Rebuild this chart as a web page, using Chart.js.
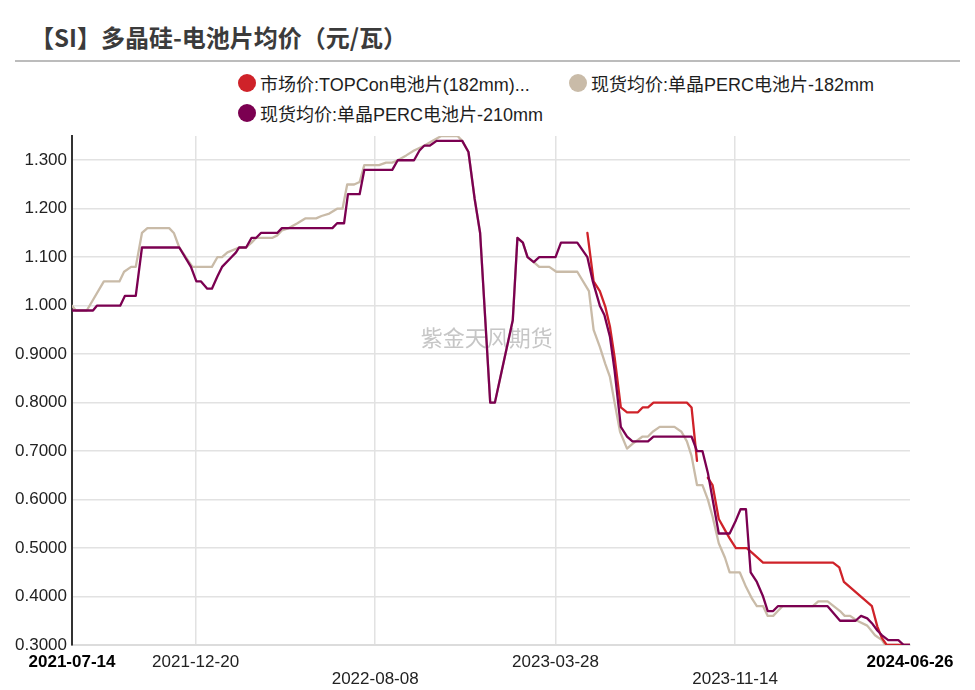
<!DOCTYPE html>
<html>
<head>
<meta charset="utf-8">
<script src="https://cdn.jsdelivr.net/npm/chart.js@4.4.1/dist/chart.umd.min.js"></script>
<style>
html,body{margin:0;padding:0;background:#fff;}
#wrap{position:relative;width:975px;height:690px;overflow:hidden;font-family:'Liberation Sans',Arial,'Noto Sans CJK SC',sans-serif;}
#title{position:absolute;left:30px;top:19px;font-family:'Noto Sans CJK SC',sans-serif;font-weight:700;font-size:24px;color:#3b3b3b;line-height:36px;white-space:nowrap;}
#rule{position:absolute;left:15px;top:60px;width:945px;height:0;border-top:2px solid #bcbcbc;}
.lg{position:absolute;display:flex;align-items:center;height:24px;font-size:18px;color:#1e1e1e;white-space:nowrap;}
.lg .dot{width:18px;height:18px;border-radius:50%;margin-right:4px;flex:none;}
canvas{position:absolute;left:0;top:0;}
</style>
</head>
<body>
<div id="wrap">
  <div id="title">【SI】多晶硅-电池片均价（元/瓦）</div>
  <div id="rule"></div>
  <div id="legend"></div>
  <canvas id="c" width="975" height="690"></canvas>
</div>
<script>
// ---------------- DATA ----------------
const chartTitle = '【SI】多晶硅-电池片均价（元/瓦）';
const watermarkText = '紫金天风期货';
const seriesNames = [
  '市场价:TOPCon电池片(182mm)...',
  '现货均价:单晶PERC电池片-182mm',
  '现货均价:单晶PERC电池片-210mm'
];
const seriesColors = ['#cf2229', '#c9bba8', '#7b0051'];

const startDate = '2021-07-14';
const endDate = '2024-06-26';
const xTickDates = ['2021-07-14', '2021-12-20', '2022-08-08', '2023-03-28', '2023-11-14', '2024-06-26'];
const xTickRow = [0, 0, 1, 0, 1, 0];
const xTickBold = [true, false, false, false, false, true];

const yTickValues = [0.3, 0.4, 0.5, 0.6, 0.7, 0.8, 0.9, 1.0, 1.1, 1.2, 1.3];
const yTickLabels = ['0.3000', '0.4000', '0.5000', '0.6000', '0.7000', '0.8000', '0.9000', '1.000', '1.100', '1.200', '1.300'];
const yMin = 0.3, yMax = 1.35;

// 市场价:TOPCon电池片(182mm)
const topconDates = ['2023-05-08','2023-05-16','2023-05-24','2023-05-31','2023-06-06','2023-06-12','2023-06-20','2023-06-28',
  '2023-07-12','2023-07-18','2023-07-25','2023-08-01','2023-09-13','2023-09-19','2023-09-26','2023-10-03','2023-10-10',
  '2023-10-16','2023-10-24','2023-11-01','2023-11-07','2023-11-15','2023-11-29','2023-12-06','2023-12-20','2024-03-19',
  '2024-03-27','2024-04-02','2024-05-08','2024-05-15','2024-05-21','2024-05-27','2024-06-26'];
const topconValues = [1.15,1.05,1.03,0.998,0.957,0.894,0.79,0.78,
  0.78,0.79,0.79,0.80,0.80,0.79,0.68,null,0.645,
  0.63,0.56,0.537,0.52,0.50,0.50,0.49,0.47,0.47,
  0.46,0.43,0.38,0.338,0.314,0.30,0.30];

// 现货均价:单晶PERC电池片-182mm
const perc182Dates = ['2021-07-14','2021-07-19','2021-08-02','2021-08-24','2021-09-13','2021-09-19','2021-09-28','2021-10-04',
  '2021-10-12','2021-10-19','2021-11-16','2021-11-22','2021-11-29','2021-12-16','2022-01-10','2022-01-17','2022-01-23',
  '2022-01-30','2022-02-14','2022-02-23','2022-03-02','2022-03-08','2022-03-29','2022-04-04','2022-04-10','2022-04-19',
  '2022-04-30','2022-05-10','2022-05-24','2022-05-31','2022-06-10','2022-06-20','2022-06-27','2022-07-03','2022-07-12',
  '2022-07-19','2022-07-25','2022-08-13','2022-08-22','2022-08-30','2022-09-06','2022-09-17','2022-09-27','2022-10-10',
  '2022-10-21','2022-11-01','2022-11-22','2022-11-28','2022-12-06','2022-12-14','2022-12-21','2023-01-03','2023-01-09',
  '2023-01-18','2023-02-01','2023-02-07','2023-02-14','2023-02-20','2023-02-28','2023-03-07','2023-03-20','2023-03-29',
  '2023-04-25','2023-05-10','2023-05-16','2023-05-24','2023-05-31','2023-06-06','2023-06-12','2023-06-19','2023-06-28',
  '2023-07-05','2023-07-18','2023-07-25','2023-07-31','2023-08-09','2023-08-28','2023-09-06','2023-09-13','2023-09-19',
  '2023-09-26','2023-10-03','2023-10-10','2023-10-16','2023-10-24','2023-11-01','2023-11-07','2023-11-20','2023-11-28',
  '2023-12-06','2023-12-12','2023-12-20','2023-12-26','2024-01-02','2024-01-08','2024-01-14','2024-02-22','2024-02-29',
  '2024-03-12','2024-03-28','2024-04-03','2024-04-10','2024-04-19','2024-05-02','2024-05-12','2024-05-21','2024-05-25',
  '2024-06-26'];
const perc182Values = [1.00,0.99,0.99,1.05,1.05,1.07,1.08,1.08,
  1.15,1.16,1.16,1.15,1.12,1.08,1.08,1.10,1.10,
  1.11,1.12,1.12,1.13,1.14,1.14,1.145,1.155,1.16,
  1.17,1.18,1.18,1.185,1.19,1.20,1.20,1.25,1.25,
  1.255,1.29,1.29,1.295,1.295,1.30,1.31,1.32,1.33,
  1.34,1.35,1.35,1.34,1.317,1.22,1.15,0.80,0.80,
  0.867,0.97,1.14,1.13,1.10,1.09,1.08,1.08,1.07,
  1.07,1.03,0.95,0.915,0.88,0.853,0.80,0.74,0.705,
  0.715,0.73,0.73,0.74,0.75,0.75,0.74,0.72,0.69,
  0.63,0.63,0.60,0.565,0.51,0.48,0.45,0.45,0.42,
  0.395,0.38,0.38,0.36,0.36,0.37,0.38,0.38,0.39,
  0.39,0.37,0.36,0.36,0.35,0.34,0.32,0.31,0.30,
  0.30];

// 现货均价:单晶PERC电池片-210mm
const perc210Dates = ['2021-07-14','2021-08-10','2021-08-15','2021-09-14','2021-09-20','2021-10-04','2021-10-12','2021-11-29',
  '2021-12-14','2021-12-21','2021-12-27','2022-01-04','2022-01-10','2022-01-17','2022-01-23','2022-02-04','2022-02-10',
  '2022-02-14','2022-02-23','2022-03-02','2022-03-08','2022-03-14','2022-04-04','2022-04-10','2022-06-14','2022-06-20',
  '2022-06-29','2022-07-04','2022-07-19','2022-07-25','2022-08-30','2022-09-06','2022-09-27','2022-10-04','2022-10-10',
  '2022-10-17','2022-10-26','2022-11-28','2022-12-06','2022-12-14','2022-12-21','2023-01-03','2023-01-09','2023-01-18',
  '2023-02-01','2023-02-07','2023-02-14','2023-02-20','2023-02-28','2023-03-07','2023-03-28','2023-04-04','2023-04-25',
  '2023-05-08','2023-05-15','2023-05-24','2023-05-30','2023-06-06','2023-06-12','2023-06-20','2023-06-28','2023-07-05',
  '2023-07-25','2023-08-01','2023-09-19','2023-09-26','2023-10-03','2023-10-10','2023-10-24','2023-11-07','2023-11-15',
  '2023-11-21','2023-11-28','2023-12-04','2023-12-12','2023-12-20','2023-12-26','2024-01-02','2024-01-08','2024-03-12',
  '2024-03-28','2024-04-17','2024-04-24','2024-05-02','2024-05-08','2024-05-15','2024-05-21','2024-05-29','2024-06-11',
  '2024-06-18','2024-06-26'];
const perc210Values = [0.99,0.99,1.00,1.00,1.02,1.02,1.12,1.12,
  1.08,1.05,1.05,1.035,1.035,1.06,1.08,1.10,1.11,
  1.12,1.12,1.14,1.14,1.15,1.15,1.16,1.16,1.17,
  1.17,1.23,1.23,1.28,1.28,1.30,1.30,1.32,1.33,
  1.33,1.34,1.34,1.317,1.22,1.15,0.80,0.80,0.867,
  0.97,1.14,1.13,1.10,1.09,1.10,1.10,1.13,1.13,
  1.10,1.05,1.00,0.98,0.936,0.866,0.75,0.73,0.72,
  0.72,0.73,0.73,0.70,0.70,0.655,0.53,0.53,0.557,
  0.58,0.58,0.45,0.43,0.40,0.37,0.37,0.38,0.38,
  0.35,0.35,0.36,0.355,0.345,0.33,0.32,0.31,0.31,
  0.30,0.30];

// ---------------- HELPERS ----------------
const DAY = 86400000;
const t0 = Date.parse(startDate + 'T00:00:00Z');
function dayOf(d) { return Math.round((Date.parse(d + 'T00:00:00Z') - t0) / DAY); }
function toPoints(dates, values) { return dates.map((d, i) => ({ x: dayOf(d), y: values[i] })); }

// ---------------- TITLE / LEGEND (HTML) ----------------
document.getElementById('title').textContent = chartTitle;
const legendPos = [[238, 71], [569, 71], [238, 101]];
const legendEl = document.getElementById('legend');
seriesNames.forEach((name, i) => {
  const item = document.createElement('div');
  item.className = 'lg';
  item.style.left = legendPos[i][0] + 'px';
  item.style.top = legendPos[i][1] + 'px';
  const dot = document.createElement('span');
  dot.className = 'dot';
  dot.style.background = seriesColors[i];
  const txt = document.createElement('span');
  txt.textContent = name;
  item.appendChild(dot);
  item.appendChild(txt);
  legendEl.appendChild(item);
});

// ---------------- CHART ----------------
const FONT = "'Liberation Sans', Arial, 'Noto Sans CJK SC', sans-serif";
Chart.defaults.font.family = FONT;

const watermark = {
  id: 'watermark',
  beforeDatasetsDraw(chart) {
    const { ctx, chartArea: a } = chart;
    ctx.save();
    ctx.font = "22px 'Noto Sans CJK SC', sans-serif";
    ctx.fillStyle = '#c6c6c6';
    ctx.textAlign = 'center';
    ctx.textBaseline = 'middle';
    ctx.fillText(watermarkText, a.left + (a.right - a.left) * 0.495, a.top + (a.bottom - a.top) * 0.397);
    ctx.restore();
  }
};

const lastX = xTickDates.length - 1;

new Chart(document.getElementById('c'), {
  type: 'line',
  data: {
    datasets: [
      { label: seriesNames[0], data: toPoints(topconDates, topconValues), borderColor: seriesColors[0], order: 1 },
      { label: seriesNames[1], data: toPoints(perc182Dates, perc182Values), borderColor: seriesColors[1], order: 2 },
      { label: seriesNames[2], data: toPoints(perc210Dates, perc210Values), borderColor: seriesColors[2], order: 0 }
    ]
  },
  options: {
    responsive: false,
    animation: false,
    events: [],
    spanGaps: false,
    layout: { padding: { top: 136, right: 65, bottom: 0, left: 0 } },
    elements: {
      line: { borderWidth: 2.3, tension: 0, fill: false, borderJoinStyle: 'round', borderCapStyle: 'round' },
      point: { radius: 0, hoverRadius: 0 }
    },
    plugins: { legend: { display: false }, tooltip: { enabled: false }, title: { display: false } },
    scales: {
      x: {
        type: 'linear',
        min: 0,
        max: dayOf(endDate),
        afterBuildTicks(scale) { scale.ticks = xTickDates.map(d => ({ value: dayOf(d) })); },
        afterFit(scale) { scale.height = 45; },
        ticks: {
          autoSkip: false,
          maxRotation: 0,
          minRotation: 0,
          padding: 8,
          color: (ctx) => xTickBold[ctx.index] ? '#000' : '#222',
          font: (ctx) => ({ size: 17, lineHeight: 1.05, weight: xTickBold[ctx.index] ? 'bold' : 'normal' }),
          callback: (v, i) => xTickRow[i] === 1 ? ['', xTickDates[i]] : xTickDates[i]
        },
        grid: {
          drawTicks: false,
          color: (ctx) => (ctx.index === 0 || ctx.index === lastX) ? 'rgba(0,0,0,0)' : '#e2e2e2',
          lineWidth: 1.5
        },
        border: { display: true, color: '#dcdcdc', width: 2 }
      },
      y: {
        type: 'linear',
        min: yMin,
        max: yMax,
        afterBuildTicks(scale) { scale.ticks = yTickValues.map(v => ({ value: v })); },
        afterFit(scale) { scale.width = 72; },
        ticks: {
          padding: 5,
          color: '#222',
          font: { size: 17 },
          callback: (v, i) => yTickLabels[i]
        },
        grid: { drawTicks: false, color: '#e2e2e2', lineWidth: 1.5 },
        border: { display: true, color: '#333', width: 2 }
      }
    }
  },
  plugins: [watermark]
});
</script>
</body>
</html>
